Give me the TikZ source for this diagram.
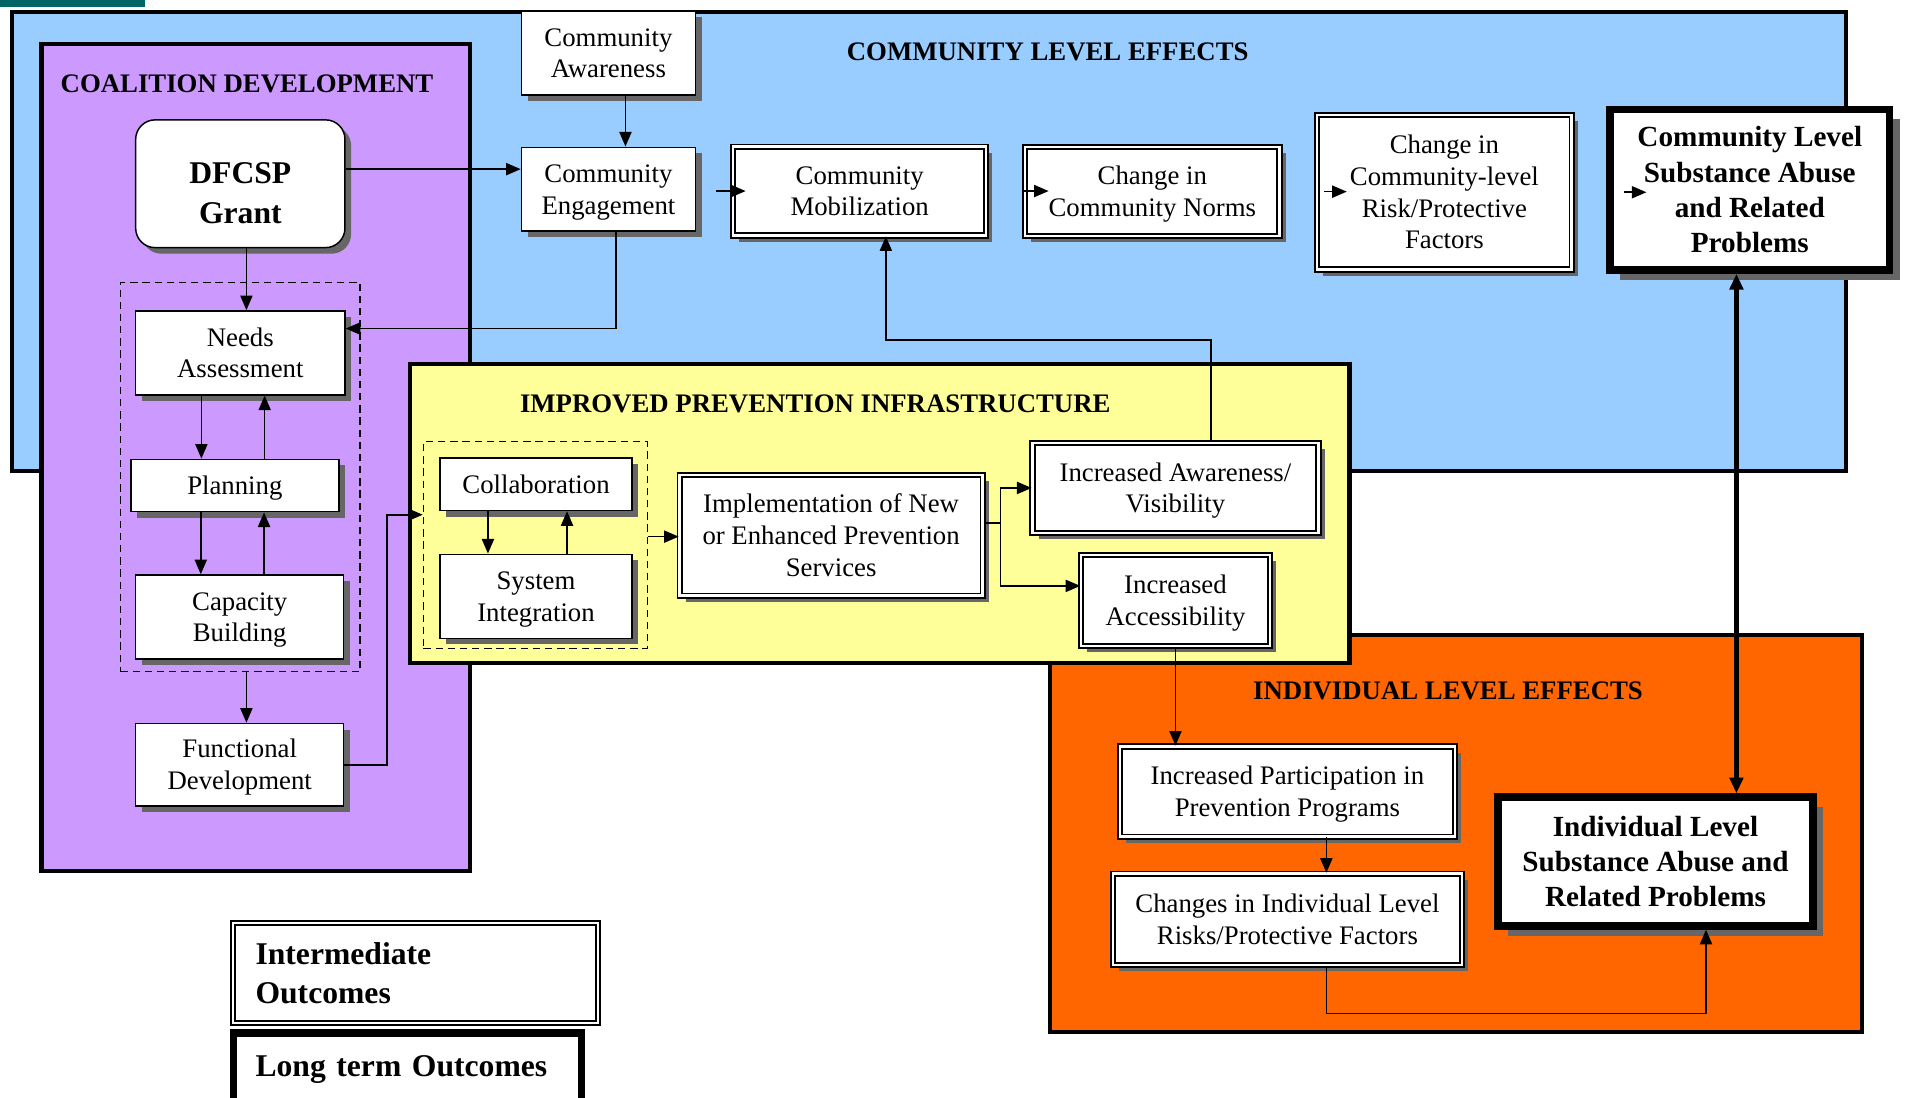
\documentclass[tikz,border=0pt]{standalone}
\usepackage{fontspec}
\setmainfont{Liberation Serif}
\usetikzlibrary{arrows.meta, shadows, positioning}
\definecolor{cbsky}{HTML}{99CCFF}
\definecolor{cblilac}{HTML}{CC99FF}
\definecolor{cblemon}{HTML}{FFFF99}
\definecolor{cborange}{HTML}{FF6600}
\definecolor{cbteal}{HTML}{006666}
\definecolor{cbshadow}{HTML}{666666}
\tikzstyle{region} = [draw=black, line width=3.5pt]
\tikzstyle{title} = [inner sep=0pt, font={\fontsize{22}{26}\selectfont\bfseries}]
% text height = lines above the last baseline, so that the lines sit in the middle
\tikzstyle{process} = [rectangle, draw=black, fill=white, line width=1.2pt, inner sep=2pt,
text centered, align=center, font={\fontsize{22}{26}\selectfont}, text height=45.6pt, text depth=4.8pt,
drop shadow={shadow xshift=5pt, shadow yshift=-5pt, fill=cbshadow, opacity=1}]
\tikzstyle{grant} = [process, rounded corners=16pt, font={\fontsize{26}{33}\selectfont\bfseries},
text height=70pt, text depth=5pt]
\tikzstyle{intermediate} = [process, double, double distance=2pt, line width=1.5pt]
\tikzstyle{longterm} = [rectangle, draw=black, fill=white, line width=6pt, inner sep=2pt,
text centered, align=center, font={\fontsize{24}{29}\selectfont\bfseries},
drop shadow={shadow xshift=8pt, shadow yshift=-8pt, fill=cbshadow, opacity=1}]
\tikzstyle{dashbox} = [rectangle, draw=black, dashed, dash pattern=on 6pt off 4pt, line width=1.2pt, inner sep=0pt]
\tikzstyle{legendint} = [rectangle, draw=black, fill=white, double, double distance=2pt, line width=1.5pt,
align=left, font={\fontsize{26}{32}\selectfont\bfseries}]
\tikzstyle{legendlong} = [rectangle, draw=black, fill=white, line width=6pt,
align=left, font={\fontsize{26}{32}\selectfont\bfseries}]
\tikzstyle{arrow} = [line width=1.3pt, ->, >={Triangle[length=12pt, width=10pt]}]
\tikzstyle{bigarrow} = [line width=3.5pt, <->, >={Triangle[length=13pt, width=11pt]}]

\begin{document}
\begin{tikzpicture}[x=1pt, y=1pt]
\useasboundingbox (0,0) rectangle (1568,-902);

% ------------------------- regions -------------------------
\fill[cbteal] (0,0) rectangle (119,-6);
\draw[region, fill=cbsky] (10,-10) rectangle (1517,-387);
\draw[region, fill=cblilac] (34,-36) rectangle (386,-716);
\draw[region, fill=cborange] (863,-522) rectangle (1530,-848);
\draw[region, fill=cblemon] (337,-299) rectangle (1109,-545);

\node(coaltitle)[title] at (203,-69) {COALITION DEVELOPMENT};
\node(commtitle)[title] at (861,-43) {COMMUNITY LEVEL EFFECTS};
\node(infratitle)[title] at (670,-332) {IMPROVED PREVENTION INFRASTRUCTURE};
\node(indivtitle)[title] at (1190,-568) {INDIVIDUAL LEVEL EFFECTS};

% ------------------------- nodes -------------------------
% ----- coalition development
\node(grant)[grant, minimum width=172pt, minimum height=105pt] at (197.5,-151) {DFCSP\\Grant};
\node(cdbox)[dashbox, minimum width=197pt, minimum height=320pt] at (197.5,-392) {};
\node(needs)[process, minimum width=172pt, minimum height=69pt] at (197.5,-290) {Needs\\Assessment};
\node(plan)[process, minimum width=171pt, minimum height=43pt, text height=19.6pt] at (193,-399) {Planning};
\node(capac)[process, minimum width=171pt, minimum height=69pt] at (197,-507) {Capacity\\Building};
\node(func)[process, minimum width=171pt, minimum height=68pt] at (197,-628.5) {Functional\\Development};
% ----- community level effects
\node(aware)[process, minimum width=143pt, minimum height=69pt] at (500,-43.5) {Community\\Awareness};
\node(engage)[process, minimum width=143pt, minimum height=69pt] at (500,-155.5) {Community\\Engagement};
\node(mobil)[intermediate, minimum width=208pt, minimum height=73pt] at (706.5,-157) {Community\\Mobilization};
\node(norms)[intermediate, minimum width=209pt, minimum height=73pt] at (947,-157.5) {Change in\\Community Norms};
\node(risk)[intermediate, minimum width=209pt, minimum height=127pt, text height=97.6pt] at (1187,-158) {Change in\\Community-level\\Risk/Protective\\Factors};
\node(commlev)[longterm, minimum width=230pt, minimum height=132pt] at (1438,-156) {Community Level\\Substance Abuse\\and Related\\Problems};
% ----- improved prevention infrastructure
\node(idbox)[dashbox, minimum width=184pt, minimum height=170pt] at (440,-448) {};
\node(collab)[process, minimum width=158pt, minimum height=43pt, text height=19.6pt] at (440.5,-398) {Collaboration};
\node(sysint)[process, minimum width=158pt, minimum height=69pt] at (440.5,-490) {System\\Integration};
\node(impl)[intermediate, minimum width=249pt, minimum height=99pt, text height=71.6pt] at (683,-440) {Implementation of New\\or Enhanced Prevention\\Services};
\node(visib)[intermediate, minimum width=235pt, minimum height=74pt] at (966,-401) {Increased Awareness/\\Visibility};
\node(access)[intermediate, minimum width=155pt, minimum height=75pt] at (966,-493.5) {Increased\\Accessibility};
% ----- individual level effects
\node(partic)[intermediate, minimum width=275pt, minimum height=74pt] at (1058,-650.5) {Increased Participation in\\Prevention Programs};
\node(change)[intermediate, minimum width=287pt, minimum height=75pt] at (1058,-755.5) {Changes in Individual Level\\Risks/Protective Factors};
\node(indiv)[longterm, minimum width=259pt, minimum height=106pt] at (1360.5,-708) {Individual Level\\Substance Abuse and\\Related Problems};
% ----- legend
\node(legint)[legendint, minimum width=300pt, minimum height=82pt, text width=263pt] at (341.5,-799.5) {Intermediate\\Outcomes};
\node(leglong)[legendlong, minimum width=286pt, minimum height=60pt, text width=250pt] at (335,-879) {Long term Outcomes};

% ------------------------- connections -------------------------
\draw[arrow]([xshift=5pt]grant.south)--([xshift=5pt]needs.north);
\draw[arrow]([xshift=-32pt]needs.south)--([xshift=-32pt]needs.south |- plan.north);
\draw[arrow]([xshift=20pt]needs.south |- plan.north)--([xshift=20pt]needs.south);
\draw[arrow]([xshift=-32pt]capac.north |- plan.south)--([xshift=-32pt]capac.north);
\draw[arrow]([xshift=20pt]capac.north)--([xshift=20pt]capac.north |- plan.south);
\draw[arrow]([xshift=5pt]cdbox.south)--([xshift=5pt]cdbox.south |- func.north);
\draw[arrow](func.east)--++(35pt,0) |- ([yshift=25pt]idbox.west);
\draw[arrow]([yshift=12pt]grant.east)--([yshift=12pt]grant.east -| engage.west);
\draw[arrow]([xshift=14pt]aware.south)--([xshift=14pt]engage.north);
\draw[arrow]([xshift=6pt]engage.south) |- ([yshift=20pt]needs.east);
\draw[arrow, shorten <=16pt, shorten >=-11pt](mobil.west -| engage.east)--(mobil.west);
\draw[arrow, shorten <=30pt, shorten >=-20pt](mobil.east)--(mobil.east -| norms.west);
\draw[arrow, shorten <=36pt, shorten >=-25pt](norms.east)--(norms.east -| risk.west);
\draw[arrow, shorten <=42pt, shorten >=-33pt](risk.east)--(risk.east -| commlev.west);
\draw[arrow]([xshift=29pt]visib.north)--++(0,84pt) -| ([xshift=21.5pt]mobil.south);
\draw[bigarrow]([xshift=-11pt]commlev.south)--([xshift=-11pt]commlev.south |- indiv.north);
\draw[arrow]([xshift=-39.5pt]collab.south)--([xshift=-39.5pt]collab.south |- sysint.north);
\draw[arrow]([xshift=25.5pt]collab.south |- sysint.north)--([xshift=25.5pt]collab.south);
\draw[arrow]([yshift=7pt]idbox.east)--([yshift=7pt]idbox.east -| impl.west);
\draw[arrow]([yshift=10pt]impl.east)--++(14pt,0) |- (visib.west);
\draw[arrow]([yshift=10pt]impl.east)--++(14pt,0) |- ([yshift=12pt]access.west);
\draw[arrow](access.south)--(access.south |- partic.north);
\draw[arrow]([xshift=32pt]partic.south)--([xshift=32pt]partic.south |- change.north);
\draw[arrow]([xshift=32pt]change.south)--++(0,-39pt) -| ([xshift=41.5pt]indiv.south);
\end{tikzpicture}
\end{document}
